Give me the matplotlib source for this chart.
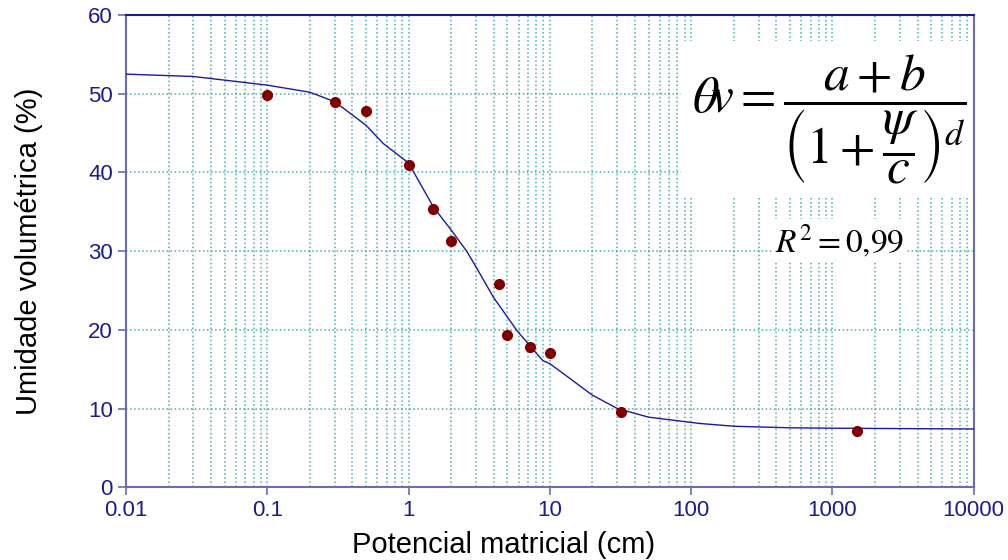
import matplotlib
matplotlib.use("Agg")
import matplotlib.pyplot as plt
from matplotlib.ticker import LogLocator, FixedLocator, FixedFormatter, NullFormatter

# pontos medidos
psi_obs = [0.1, 0.3, 0.5, 1, 1.5, 2, 4.4, 5, 7.2, 10, 32, 1500]
theta_obs = [49.9, 48.9, 47.8, 40.9, 35.3, 31.3, 25.8, 19.4, 17.8, 17.0, 9.5, 7.2]

# curva ajustada
psi_fit = [0.01, 0.03, 0.1, 0.2, 0.3, 0.5, 0.66, 1, 1.5, 2, 2.6, 3, 4, 5.85,
           8.9, 10, 20, 30, 50, 115, 200, 500, 1000, 3000, 10000]
theta_fit = [52.5, 52.2, 51.1, 50.2, 49.0, 46.0, 43.7, 41.2, 35.6, 32.7, 29.9,
             28.0, 24.1, 19.9, 16.1, 15.7, 11.7, 10.0, 8.9, 8.1, 7.75, 7.55,
             7.5, 7.45, 7.4]

x_ticks = [0.01, 0.1, 1, 10, 100, 1000, 10000]
x_labels = ["0.01", "0.1", "1", "10", "100", "1000", "10000"]
y_ticks = [0, 10, 20, 30, 40, 50, 60]

plt.rcParams['font.family'] = ['Liberation Sans', 'DejaVu Sans']
plt.rcParams['mathtext.fontset'] = 'stix'

navy = '#1c1c8c'
spine_c = '#6b6bb5'
grid_c = '#2a9f9f'

fig = plt.figure(figsize=(10.08, 5.6), dpi=100)
ax = fig.add_axes([0.125, 0.130, 0.841, 0.843])

ax.plot(psi_fit, theta_fit, color='#1a1aa0', lw=1.0, zorder=3)
ax.plot(psi_obs, theta_obs, 'o', color='#800000', ms=7, zorder=4)

ax.set_xscale('log')
ax.set_xlim(0.01, 10000)
ax.set_ylim(0, 60)
ax.xaxis.set_major_locator(FixedLocator(x_ticks))
ax.xaxis.set_major_formatter(FixedFormatter(x_labels))
ax.xaxis.set_minor_locator(LogLocator(base=10, subs=range(2, 10), numticks=20))
ax.xaxis.set_minor_formatter(NullFormatter())
ax.set_yticks(y_ticks)

ax.grid(True, which='both', axis='x', color=grid_c, ls=':', lw=1.1, alpha=0.85)
ax.grid(True, which='major', axis='y', color=grid_c, ls=':', lw=1.1, alpha=0.85)
ax.tick_params(which='minor', length=0)
ax.tick_params(which='major', direction='out', length=6, color=spine_c,
               labelcolor=navy, labelsize=16, width=1.2)

for s in ax.spines.values():
    s.set_color(spine_c)
    s.set_linewidth(1.5)
ax.spines['top'].set_color(navy)

ax.set_xlabel("Potencial matricial (cm)", fontsize=21, va='center')
ax.xaxis.set_label_coords(0.445, -0.123)
ax.set_ylabel("Umidade volumétrica (%)", fontsize=21, va='center')
ax.yaxis.set_label_coords(-0.115, 0.5)

# equacao e R2 sobre caixas brancas (abaixo das bordas do eixo)
ax.text(0.83, 0.78, r"$\theta\!v = \dfrac{a+b}{\left(1+\dfrac{\psi}{c}\right)^{d}}$",
        transform=ax.transAxes, fontsize=37, ha='center', va='center', zorder=2,
        bbox=dict(facecolor='white', edgecolor='none', pad=8))
ax.text(0.842, 0.523, r"$R^2 = 0{,}99$", transform=ax.transAxes, fontsize=24,
        ha='center', va='center', zorder=2,
        bbox=dict(facecolor='white', edgecolor='none', pad=2))

fig.savefig("out.png", dpi=100)
